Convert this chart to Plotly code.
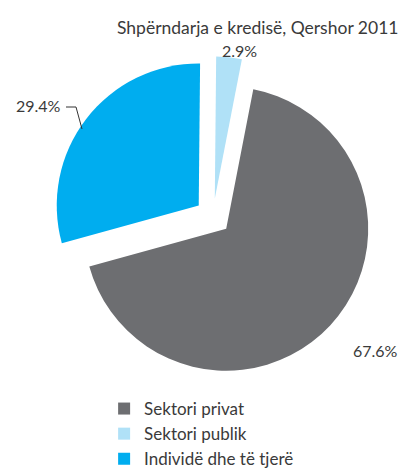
import plotly.graph_objects as go

TITLE = 'Shpërndarja e kredisë, Qershor 2011'
LABELS = ['Sektori privat', 'Sektori publik', 'Individë dhe të tjerë']
VALUES = [67.6, 2.9, 29.4]
COLORS = ['#6d6e71', '#b0e1f7', '#00adef']

FONT = 'Lato'
TXT = '#3a3a3a'
W, H = 409, 469


def px2paper(x, y):
    return x / W, 1 - y / H


def make_plot():
    # pie centre / radius in pixels, pull ~18px
    cx, cy, r = 205, 208.5, 142
    pull = 18 / r
    half = r * (1 + pull)
    fig = go.Figure(go.Pie(
        labels=LABELS,
        values=VALUES,
        marker=dict(colors=COLORS, line=dict(width=0)),
        sort=False,
        direction='counterclockwise',
        rotation=11,
        pull=[pull] * 3,
        textinfo='none',
        hoverinfo='label+percent',
        domain=dict(x=[(cx - half) / W, (cx + half) / W],
                    y=[1 - (cy + half) / H, 1 - (cy - half) / H]),
    ))

    # percentage labels placed by hand around the pie
    pos = [(367, 342), (232, 43), (30, 97)]
    anns = []
    for v, (px, py) in zip(VALUES, pos):
        x, y = px2paper(px, py)
        anns.append(dict(
            text=f'{v:.1f}%', x=x, y=y,
            xref='paper', yref='paper', showarrow=False,
            xanchor='center', yanchor='middle',
            font=dict(family=FONT, size=16, color=TXT),
        ))
    x, y = px2paper(392, 19)
    anns.append(dict(
        text=TITLE, x=x, y=y, xref='paper', yref='paper',
        xanchor='right', yanchor='middle', showarrow=False,
        font=dict(family=FONT, size=17.5, color=TXT),
    ))

    p = [px2paper(58, 99), px2paper(68, 99), px2paper(74, 121)]
    fig.update_layout(
        width=W, height=H,
        margin=dict(l=0, r=0, t=0, b=0),
        paper_bgcolor='white',
        annotations=anns,
        shapes=[dict(
            type='path', xref='paper', yref='paper',
            path='M {} {} L {} {} L {} {}'.format(*p[0], *p[1], *p[2]),
            line=dict(color='#333333', width=1),
        )],
        legend=dict(
            x=0.235, y=0.0, xanchor='left', yanchor='bottom',
            font=dict(family=FONT, size=17, color=TXT),
            itemwidth=30, tracegroupgap=0,
        ),
    )
    return fig


def main():
    fig = make_plot()
    fig.write_html('out.html')


if __name__ == '__main__':
    main()
